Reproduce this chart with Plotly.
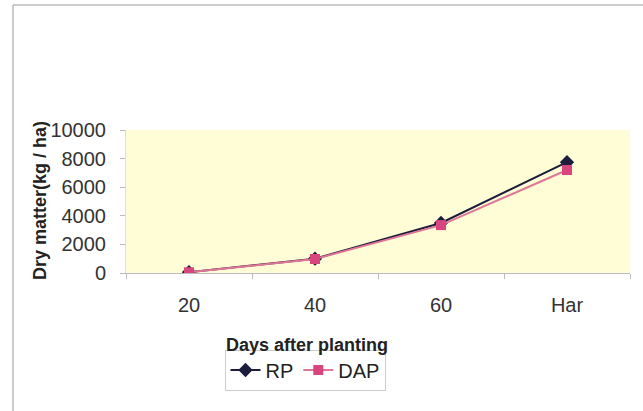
import plotly.graph_objects as go

categories = ["20", "40", "60", "Har"]
rp_values = [60, 1000, 3500, 7750]
dap_values = [50, 980, 3350, 7200]
y_ticks = [0, 2000, 4000, 6000, 8000, 10000]
y_tick_labels = ["0", "2000", "4000", "6000", "8000", "10000"]

W, H = 643, 411
L, R, T, B = 126, 630, 130, 273

def px(x):
    return (x - L) / (R - L)

def py(y):
    return (B - y) / (B - T)

fig = go.Figure()
fig.add_trace(go.Scatter(
    x=categories, y=rp_values, name="RP", mode="lines+markers",
    line=dict(color="#1c1c3c", width=2),
    marker=dict(symbol="diamond", size=11, color="#1c1c3c"),
))
fig.add_trace(go.Scatter(
    x=categories, y=dap_values, name="DAP", mode="lines+markers",
    line=dict(color="#e07595", width=2),
    marker=dict(symbol="square", size=10, color="#d9467f"),
))

font_family = "Liberation Sans, Arial, sans-serif"

fig.update_layout(
    width=W, height=H,
    margin=dict(l=L, r=W - R, t=T, b=H - B),
    paper_bgcolor="white",
    plot_bgcolor="#fefdd6",
    font=dict(family=font_family, size=20, color="#333333"),
    showlegend=True,
    legend=dict(
        orientation="h", xref="paper", yref="paper",
        x=px(305), y=py(370), xanchor="center", yanchor="middle",
        bordercolor="#cccccc", borderwidth=1, bgcolor="white",
        font=dict(size=20, color="#222222"),
        itemwidth=30, tracegroupgap=0,
    ),
    xaxis=dict(
        type="category", categoryorder="array", categoryarray=categories,
        range=[-0.5, 3.5], showgrid=False, zeroline=False,
        showline=True, linecolor="#bbbbbb", linewidth=1,
        ticks="outside", tickson="boundaries", ticklen=5, tickcolor="#bbbbbb",
        tickfont=dict(size=20, color="#333333"),
        ticklabelstandoff=14,
    ),
    yaxis=dict(
        range=[0, 10000], tickvals=y_ticks, ticktext=y_tick_labels,
        showgrid=False, zeroline=False,
        showline=True, linecolor="#dddddd", linewidth=1,
        ticks="outside", ticklen=5, tickcolor="#bbbbbb",
        tickfont=dict(size=20, color="#333333"),
        ticklabelstandoff=10,
    ),
    annotations=[
        dict(text="<b>Days after planting</b>", x=px(307), y=py(345),
             xref="paper", yref="paper", showarrow=False,
             xanchor="center", yanchor="middle",
             font=dict(size=18, color="#222222", family=font_family)),
        dict(text="<b>Dry matter(kg / ha)</b>", x=px(40), y=py(201),
             xref="paper", yref="paper", showarrow=False, textangle=-90,
             xanchor="center", yanchor="middle",
             font=dict(size=18, color="#222222", family=font_family)),
    ],
    shapes=[
        dict(type="line", xref="paper", yref="paper",
             x0=px(13), x1=px(13), y0=py(5), y1=py(411),
             line=dict(color="#bbbbbb", width=1.5)),
        dict(type="line", xref="paper", yref="paper",
             x0=px(13), x1=px(643), y0=py(5), y1=py(5),
             line=dict(color="#bbbbbb", width=1.5)),
    ],
)

fig.write_html("out.html")
